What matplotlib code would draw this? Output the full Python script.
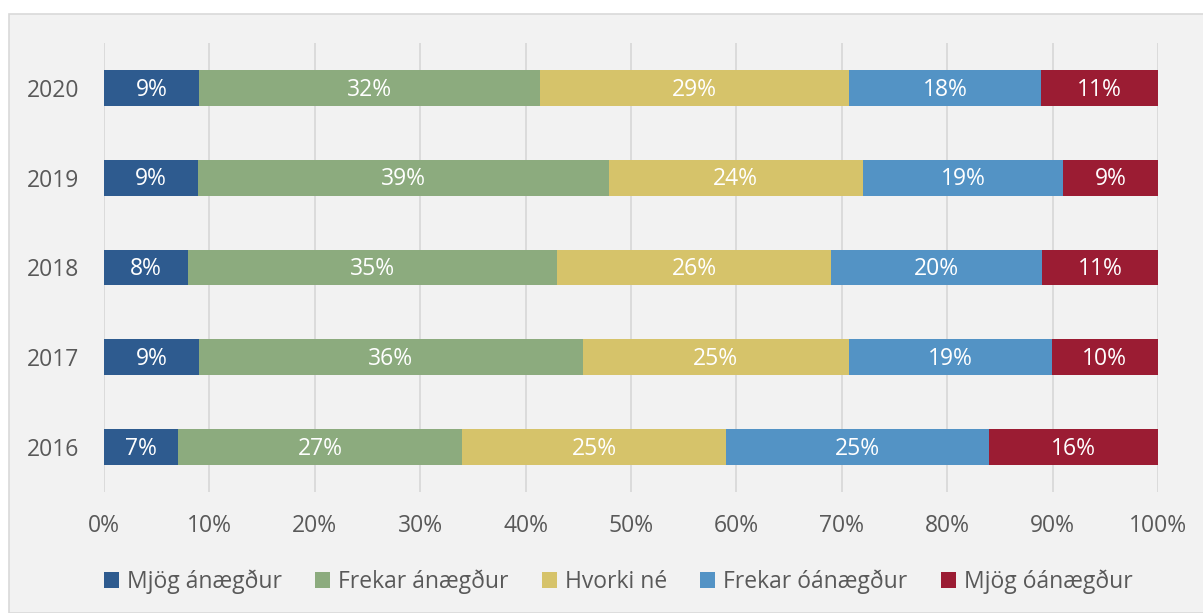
import matplotlib.pyplot as plt
import numpy as np
from matplotlib.patches import Rectangle

plt.rcParams['font.family'] = ['Open Sans', 'DejaVu Sans']

years = ["2016", "2017", "2018", "2019", "2020"]
categories = ["Mjög ánægður", "Frekar ánægður", "Hvorki né", "Frekar óánægður", "Mjög óánægður"]
colors = ["#2e5b8f", "#8cab7e", "#d6c36a", "#5393c5", "#9b1c33"]

# shares
mjog_anaegdur = [7.0, 9.0, 8.0, 8.9, 9.0]
frekar_anaegdur = [27.0, 36.4, 35.0, 39.0, 32.4]
hvorki_ne = [25.0, 25.3, 26.0, 24.1, 29.3]
frekar_oanaegdur = [25.0, 19.2, 20.0, 19.0, 18.2]
mjog_oanaegdur = [16.0, 10.1, 11.0, 9.0, 11.1]

# labels as printed on the chart
labels = [
    [7, 9, 8, 9, 9],
    [27, 36, 35, 39, 32],
    [25, 25, 26, 24, 29],
    [25, 19, 20, 19, 18],
    [16, 10, 11, 9, 11],
]

series = [mjog_anaegdur, frekar_anaegdur, hvorki_ne, frekar_oanaegdur, mjog_oanaegdur]

fig = plt.figure(figsize=(12.03, 6.13), dpi=100)
fig.patch.set_facecolor("white")
fig.patches.append(Rectangle((9 / 1203, 0), 1.0, (613 - 14) / 613, transform=fig.transFigure,
                             facecolor="#f2f2f2", edgecolor="#d9d9d9", linewidth=1.2, zorder=-1))

ax = fig.add_axes([104 / 1203, 121 / 613, 1054 / 1203, 449 / 613])
ax.set_facecolor("none")

y = np.arange(len(years))
left = np.zeros(len(years))
for vals, lab, col, name in zip(series, labels, colors, categories):
    vals = np.array(vals)
    ax.barh(y, vals, left=left, height=0.4, color=col, label=name, zorder=3)
    for i in range(len(years)):
        ax.text(left[i] + vals[i] / 2, y[i] - 0.02, f"{lab[i]}%", ha="center", va="center",
                color="white", fontsize=16.5, zorder=4)
    left += vals

ax.set_xlim(0, 100)
ax.set_ylim(-0.5, 4.5)
ax.set_xticks(np.arange(0, 101, 10))
ax.set_xticklabels([f"{v}%" for v in range(0, 101, 10)])
ax.set_yticks(y)
ax.set_yticklabels(years)
ax.tick_params(axis="both", length=0, labelsize=16.5, colors="#595959")
ax.tick_params(axis="x", pad=16)
ax.tick_params(axis="y", pad=18)
ax.grid(axis="x", color="#d9d9d9", linewidth=1.3, zorder=0)
for s in ax.spines.values():
    s.set_visible(False)

fig.legend(loc="center", bbox_to_anchor=(0.514, 0.051), ncol=5, frameon=False,
           fontsize=16.5, labelcolor="#595959", handlelength=0.65, handleheight=0.65,
           handletextpad=0.35, columnspacing=1.45)

fig.savefig("out.png", dpi=100)
